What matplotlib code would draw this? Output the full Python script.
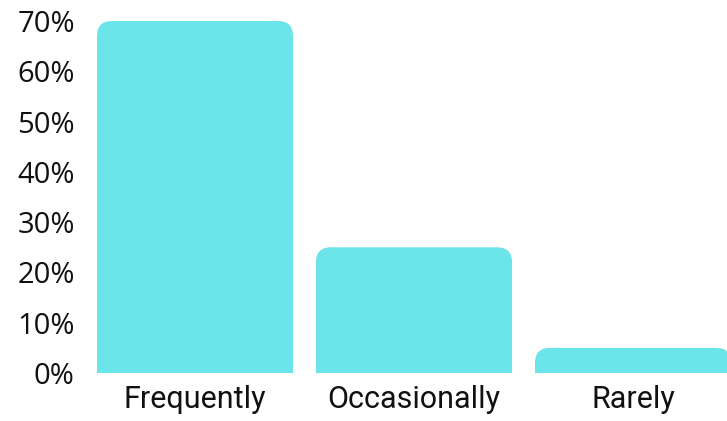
import matplotlib
matplotlib.use("Agg")
import matplotlib.pyplot as plt
from matplotlib.patches import FancyBboxPatch, Rectangle
from matplotlib.ticker import FuncFormatter

# usage frequency shares (%)
categories = ["Frequently", "Occasionally", "Rarely"]
shares = [70, 25, 5]
yticks = [0, 10, 20, 30, 40, 50, 60, 70]

bar_color = "#6be5e9"
W, H = 727, 421

fig = plt.figure(figsize=(W / 100, H / 100), dpi=100)
ax = fig.add_axes([97 / W, 48 / H, 630 / W, 352 / H])

bar_w = 196 / 219
bars = ax.bar(range(len(categories)), shares, width=bar_w, color="none")
ax.set_xlim(-bar_w / 2, (727 - 195) / 219)
ax.set_ylim(0, 70)

# round off the top corners of each bar
x_per_px = 1 / 219
y_per_px = 70 / 352
aspect = y_per_px / x_per_px
r = 15 * x_per_px
for b in bars:
    x, w, h = b.get_x(), b.get_width(), b.get_height()
    ax.add_patch(FancyBboxPatch((x, 0), w, h,
                                boxstyle=f"round,pad=0,rounding_size={r}",
                                mutation_aspect=aspect, fc=bar_color, ec="none",
                                clip_on=False))
    ax.add_patch(Rectangle((x, 0), w, h / 2, fc=bar_color, ec="none", clip_on=False))

for s in ax.spines.values():
    s.set_visible(False)

ax.set_yticks(yticks)
ax.yaxis.set_major_formatter(FuncFormatter(lambda v, _: f"{v:.0f}%"))
ax.tick_params(axis="y", length=0, pad=16, labelsize=21, labelcolor="#111111")
for lab in ax.get_yticklabels():
    lab.set_fontfamily(["Open Sans", "DejaVu Sans"])

ax.set_xticks(range(len(categories)))
ax.set_xticklabels(categories, fontsize=22, color="#111111",
                   family=["Roboto", "DejaVu Sans"])
ax.tick_params(axis="x", length=0, pad=9)

fig.savefig("out.png", dpi=100)
